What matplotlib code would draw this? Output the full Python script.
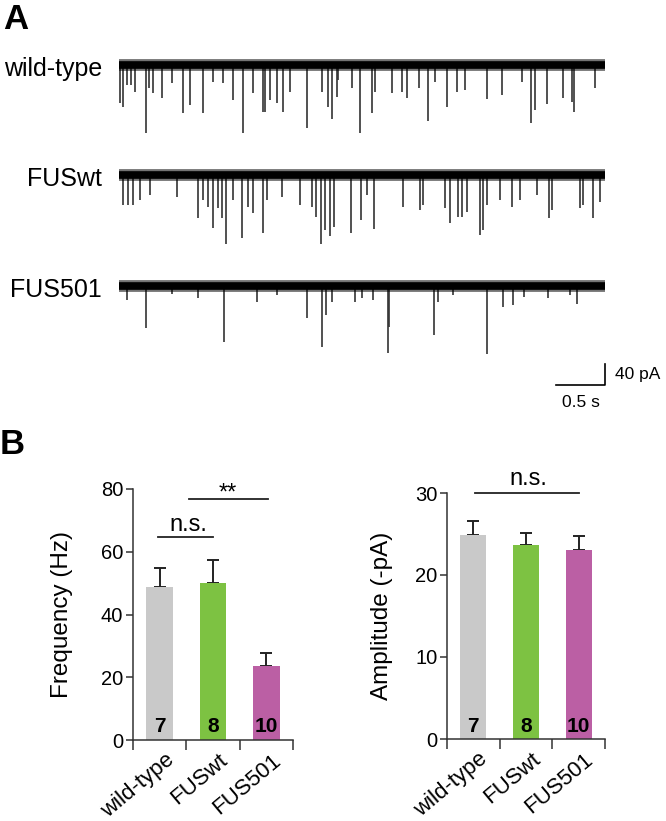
"""
Spontaneous event traces (A) and frequency / amplitude summary (B)
"""

import numpy as np
import matplotlib
matplotlib.use('Agg')
import matplotlib.pyplot as plt
from matplotlib.transforms import ScaledTranslation

plt.rcParams['font.family'] = ['Liberation Sans', 'DejaVu Sans']

# ---------------- panel A: example traces (time s, event amplitude pA) ----------------
trace_names = ['wild-type', 'FUSwt', 'FUS501']
trace_duration = 4.96
trace_offsets = [0, -210, -421]

wt_times = [0.01, 0.04, 0.08, 0.12, 0.16, 0.28, 0.31, 0.35, 0.44, 0.54, 0.65, 0.72, 0.86,
            0.96, 1.06, 1.16, 1.27, 1.37, 1.47, 1.49, 1.54, 1.61, 1.67, 1.74, 1.92, 2.07,
            2.13, 2.17, 2.22, 2.23, 2.38, 2.46, 2.58, 2.61, 2.79, 2.89, 2.94, 3.06, 3.15,
            3.22, 3.35, 3.45, 3.53, 3.76, 3.91, 4.11, 4.20, 4.24, 4.37, 4.53, 4.62, 4.64, 4.86]
wt_amps = [72, 80, 38, 38, 51, 130, 44, 53, 63, 34, 91, 76, 91,
           32, 34, 67, 130, 53, 90, 90, 67, 72, 90, 51, 120, 51,
           80, 103, 61, 29, 44, 130, 91, 51, 53, 51, 63, 44, 107,
           32, 80, 51, 48, 65, 57, 32, 110, 86, 74, 63, 70, 90, 44]

fuswt_times = [0.04, 0.09, 0.14, 0.21, 0.32, 0.59, 0.81, 0.86, 0.91, 0.96, 1.01, 1.05, 1.09,
               1.16, 1.26, 1.32, 1.37, 1.47, 1.51, 1.66, 1.85, 1.97, 2.01, 2.06, 2.10, 2.15,
               2.19, 2.37, 2.47, 2.53, 2.60, 2.90, 3.07, 3.10, 3.33, 3.38, 3.46, 3.50, 3.55,
               3.68, 3.71, 3.76, 3.89, 4.01, 4.09, 4.27, 4.39, 4.42, 4.70, 4.73, 4.84, 4.91]
fuswt_amps = [57, 57, 57, 48, 38, 42, 82, 48, 61, 101, 63, 82, 130,
              48, 120, 61, 72, 110, 48, 42, 57, 61, 80, 130, 105, 116,
              99, 110, 86, 38, 103, 61, 67, 57, 63, 91, 80, 80, 70,
              114, 105, 57, 48, 61, 48, 38, 82, 67, 63, 57, 82, 51]

fus501_times = [0.08, 0.28, 0.54, 0.81, 1.07, 1.41, 1.61, 1.92, 2.07, 2.11, 2.17, 2.41, 2.48,
                2.59, 2.74, 2.76, 3.21, 3.26, 3.41, 3.76, 3.92, 4.02, 4.13, 4.38, 4.60, 4.67]
fus501_amps = [27, 80, 15, 23, 107, 30, 17, 61, 116, 55, 30, 30, 23,
               27, 128, 78, 93, 30, 17, 130, 40, 36, 21, 23, 17, 34]

trace_times = [wt_times, fuswt_times, fus501_times]
trace_amps = [wt_amps, fuswt_amps, fus501_amps]

# ---------------- panel B: summary bars ----------------
groups = ['wild-type', 'FUSwt', 'FUS501']
n_cells = [7, 8, 10]
bar_colors = ['#c9c9c9', '#7dc242', '#bb5fa4']
freq_mean = [48.8, 50.1, 23.7]
freq_sem = [5.9, 7.2, 4.1]
amp_mean = [24.9, 23.7, 23.1]
amp_sem = [1.7, 1.4, 1.7]

W, H = 666, 821
fig = plt.figure(figsize=(W / 100, H / 100), dpi=100)


def px_box(left, top, right, bottom):
    return [left / W, 1 - bottom / H, (right - left) / W, (bottom - top) / H]


# ---- traces ----
ax = fig.add_axes(px_box(110, 40, 620, 410))
ax.set_xlim(-9 / 98, 501 / 98)
ax.set_ylim(-657, 47.6)
ax.axis('off')

for name, times, amps, off in zip(trace_names, trace_times, trace_amps, trace_offsets):
    ax.vlines(times, off - np.array(amps), off, color='#333333', lw=1.2)
    # noise band: soft outer edge + solid core
    ax.plot([0, trace_duration], [off, off], color='black', lw=8.5, alpha=0.55, solid_capstyle='butt')
    ax.plot([0, trace_duration], [off, off], color='black', lw=5.5, solid_capstyle='butt')
    ax.text(-0.173, off - 8, name, ha='right', va='center', fontsize=18)

# scale bar: 0.5 s / 40 pA
sb_x, sb_y = 4.96, -610
ax.plot([sb_x - 0.5, sb_x, sb_x], [sb_y, sb_y, sb_y + 40], color='black', lw=1.2)
ax.text(sb_x + 0.1, sb_y + 20, '40 pA', ha='left', va='center', fontsize=12.5)
ax.text(sb_x - 0.25, sb_y - 18, '0.5 s', ha='center', va='top', fontsize=12.5)

fig.text(3 / W, 1 - 3 / H, 'A', fontsize=25, fontweight='bold', va='top', ha='left')
fig.text(0 / W, 1 - 428 / H, 'B', fontsize=25, fontweight='bold', va='top', ha='left')


def bar_panel(ax, means, sems, ymax, step, ylabel, label_x):
    x = np.arange(len(groups))
    ax.bar(x, means, width=0.5, color=bar_colors, edgecolor='none', zorder=2)
    ax.errorbar(x, means, yerr=[np.zeros(len(sems)), sems], fmt='none', ecolor='#222222',
                elinewidth=1.4, capsize=4, capthick=1.4, zorder=1)
    ax.set_xlim(-0.5, 2.5)
    ax.set_ylim(0, ymax)
    ax.set_yticks(np.arange(0, ymax + 1, step))
    ax.set_xticks(x)
    ax.set_xticks([-0.5, 0.5, 1.5, 2.5], minor=True)
    ax.tick_params(axis='x', which='major', length=0, pad=7)
    ax.tick_params(axis='x', which='minor', length=7.5, width=1.1, color='#333333')
    ax.tick_params(axis='y', length=5, width=1.1, color='#333333', labelsize=14.5, pad=2)
    ax.set_xticklabels(groups, rotation=40, ha='right', va='top', rotation_mode='anchor', fontsize=16)
    shift = ScaledTranslation(0.05, 0, fig.dpi_scale_trans)
    for lab in ax.get_xticklabels():
        lab.set_transform(lab.get_transform() + shift)
    for side in ['top', 'right']:
        ax.spines[side].set_visible(False)
    for side in ['left', 'bottom']:
        ax.spines[side].set_linewidth(1.1)
        ax.spines[side].set_color('#333333')
    ax.set_ylabel(ylabel, fontsize=17.5)
    ax.yaxis.set_label_coords(label_x, 0.5)
    for xi, n in zip(x, n_cells):
        ax.text(xi, 0.03 * ymax, str(n), ha='center', va='baseline', fontsize=15, fontweight='bold')


# ---- frequency ----
ax1 = fig.add_axes(px_box(133, 489, 293, 740))
bar_panel(ax1, freq_mean, freq_sem, 80, 20, 'Frequency (Hz)', -0.375)
ax1.plot([-0.03, 1.0], [64.6, 64.6], color='#222222', lw=1.3, clip_on=False)
ax1.text(0.53, 66.7, 'n.s.', ha='center', va='baseline', fontsize=17)
ax1.plot([0.55, 2.03], [76.8, 76.8], color='#222222', lw=1.3, clip_on=False)
ax1.text(1.28, 76.8, '**', ha='center', va='baseline', fontsize=17)

# ---- amplitude ----
ax2 = fig.add_axes(px_box(447, 493, 605, 739))
bar_panel(ax2, amp_mean, amp_sem, 30, 10, 'Amplitude (-pA)', -0.342)
ax2.plot([0.03, 2.0], [30.0, 30.0], color='#222222', lw=1.3, clip_on=False)
ax2.text(1.04, 31.0, 'n.s.', ha='center', va='baseline', fontsize=17)

fig.savefig('out.png', dpi=100)
